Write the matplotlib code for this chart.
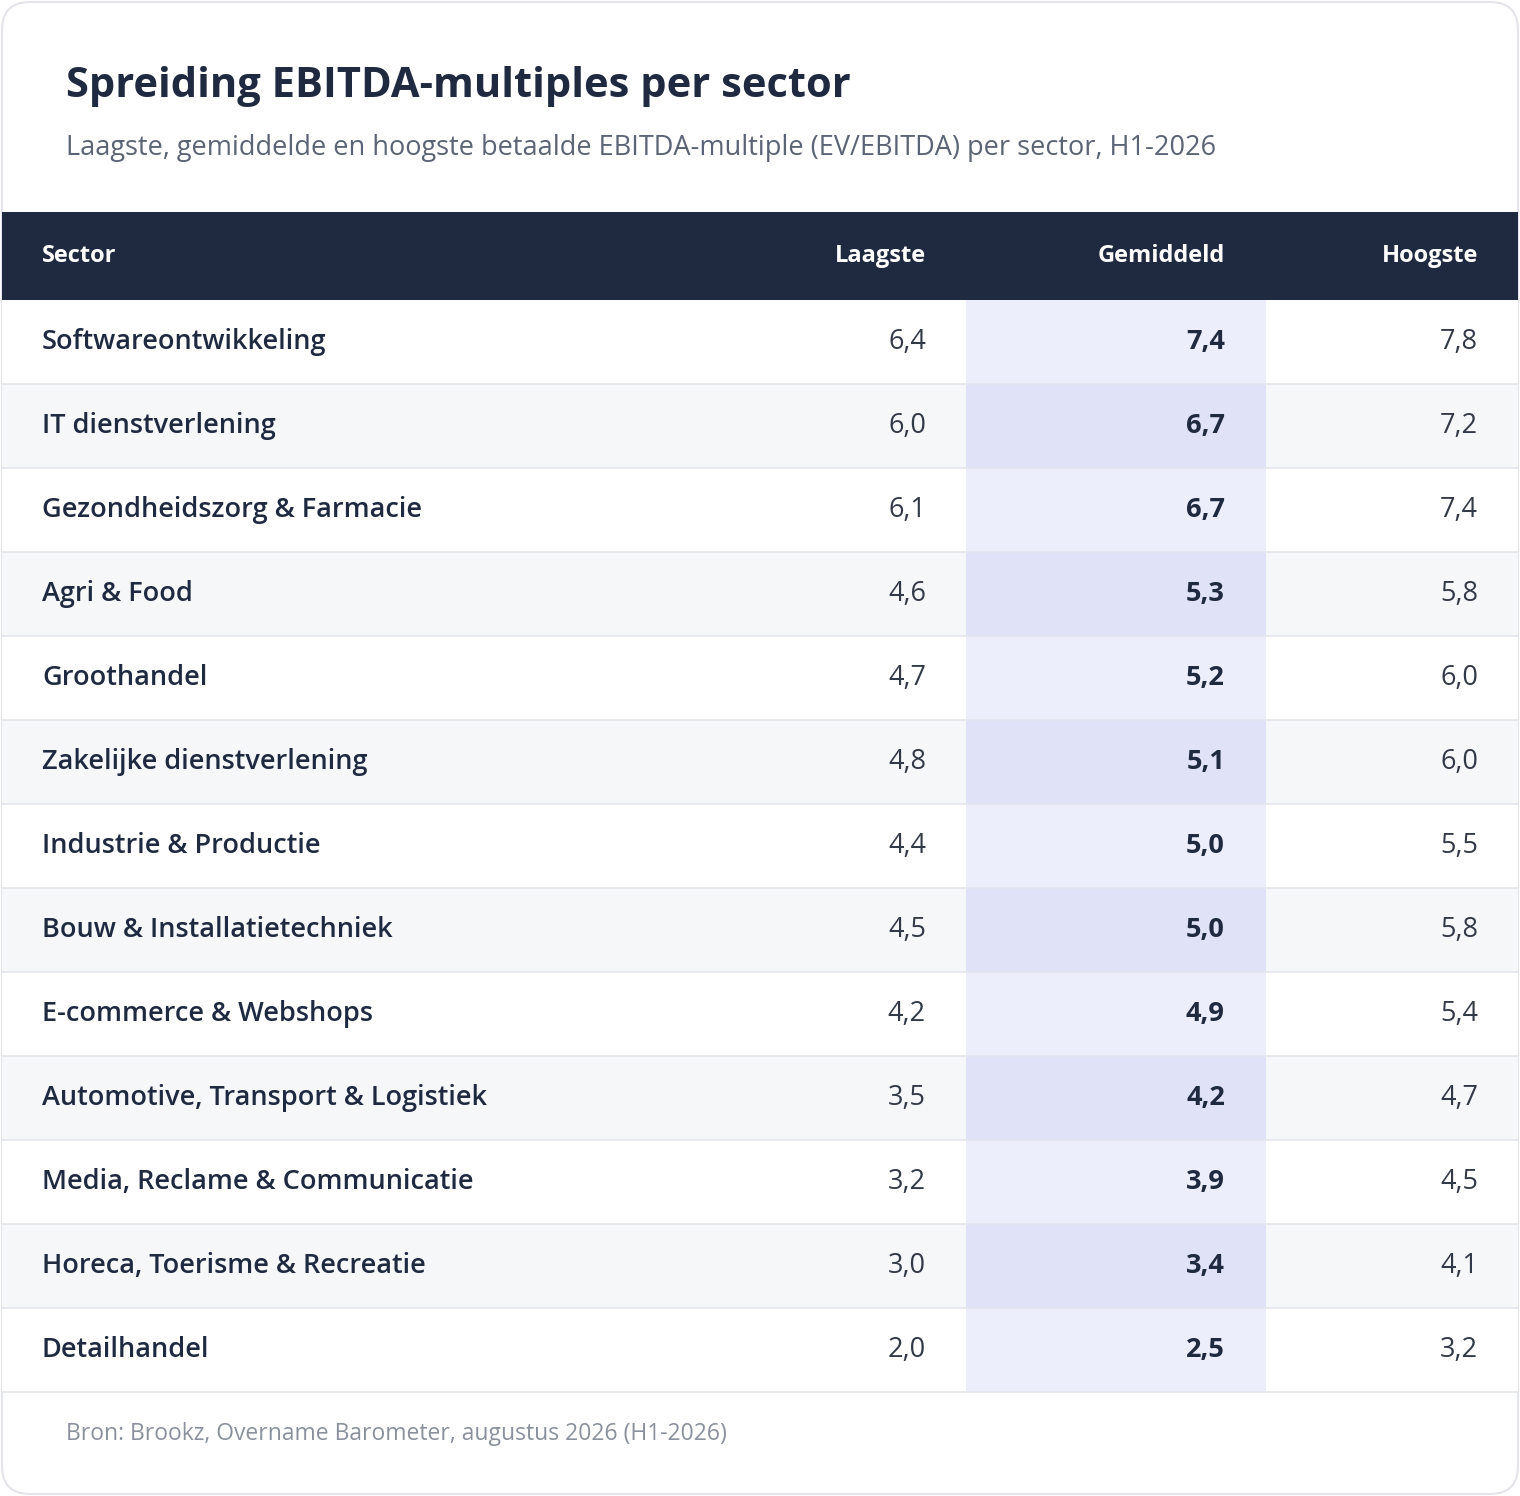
import matplotlib.pyplot as plt
from matplotlib.patches import Rectangle, FancyBboxPatch

# -- Data
sectors = ['Softwareontwikkeling', 'IT dienstverlening', 'Gezondheidszorg & Farmacie',
           'Agri & Food', 'Groothandel', 'Zakelijke dienstverlening',
           'Industrie & Productie', 'Bouw & Installatietechniek', 'E-commerce & Webshops',
           'Automotive, Transport & Logistiek', 'Media, Reclame & Communicatie',
           'Horeca, Toerisme & Recreatie', 'Detailhandel']
laagste   = [6.4, 6.0, 6.1, 4.6, 4.7, 4.8, 4.4, 4.5, 4.2, 3.5, 3.2, 3.0, 2.0]
gemiddeld = [7.4, 6.7, 6.7, 5.3, 5.2, 5.1, 5.0, 5.0, 4.9, 4.2, 3.9, 3.4, 2.5]
hoogste   = [7.8, 7.2, 7.4, 5.8, 6.0, 6.0, 5.5, 5.8, 5.4, 4.7, 4.5, 4.1, 3.2]
headers = ['Sector', 'Laagste', 'Gemiddeld', 'Hoogste']

plt.rcParams['font.family'] = ['Open Sans', 'DejaVu Sans']
W, H = 1520, 1496
fig = plt.figure(figsize=(W / 100, H / 100), dpi=100)
ax = fig.add_axes([0, 0, 1, 1])
ax.set_xlim(0, W)
ax.set_ylim(H, 0)
ax.axis('off')

fmt = lambda v: f'{v:.1f}'.replace('.', ',')
dark = '#1f2a40'

# -- Card border
ax.add_patch(FancyBboxPatch((2, 2), W - 4, H - 4, boxstyle='round,pad=0,rounding_size=28',
                            fc='white', ec='#e3e5ea', lw=1.5))

# -- Titles
ax.text(66, 86, 'Spreiding EBITDA-multiples per sector', fontsize=30, fontweight='bold',
        color=dark, va='center')
ax.text(66, 148, 'Laagste, gemiddelde en hoogste betaalde EBITDA-multiple (EV/EBITDA) per sector, H1-2026',
        fontsize=19.5, color='#5b6474', va='center')

# -- Header
top, hh, rh = 212, 88, 84
ax.add_patch(Rectangle((2, top), W - 4, hh, color=dark, lw=0))
xs = [42, 926, 1225, 1478]
has = ['left', 'right', 'right', 'right']
for x, ha, t in zip(xs, has, headers):
    ax.text(x, top + hh / 2, t, fontsize=17, fontweight='bold', color='white', ha=ha, va='center')

# -- Rows
for i, s in enumerate(sectors):
    y0 = top + hh + i * rh
    alt = i % 2 == 1
    ax.add_patch(Rectangle((2, y0), W - 4, rh, color='#f6f7f9' if alt else 'white', lw=0))
    ax.add_patch(Rectangle((966, y0), 300, rh, color='#e0e3f7' if alt else '#eceefb', lw=0))
    ax.plot([2, W - 2], [y0 + rh, y0 + rh], color='#e3e6eb', lw=1.2)
    yc = y0 + rh / 2
    ax.text(42, yc, s, fontsize=19.5, fontweight='semibold', color=dark, va='center')
    ax.text(926, yc, fmt(laagste[i]), fontsize=19.5, color='#333a47', ha='right', va='center')
    ax.text(1225, yc, fmt(gemiddeld[i]), fontsize=19.5, fontweight='bold', color=dark, ha='right', va='center')
    ax.text(1478, yc, fmt(hoogste[i]), fontsize=19.5, color='#333a47', ha='right', va='center')

ax.text(66, 1434, 'Bron: Brookz, Overname Barometer, augustus 2026 (H1-2026)', fontsize=16.5,
        color='#8a919c', va='center')

plt.savefig('out.png', dpi=100)
